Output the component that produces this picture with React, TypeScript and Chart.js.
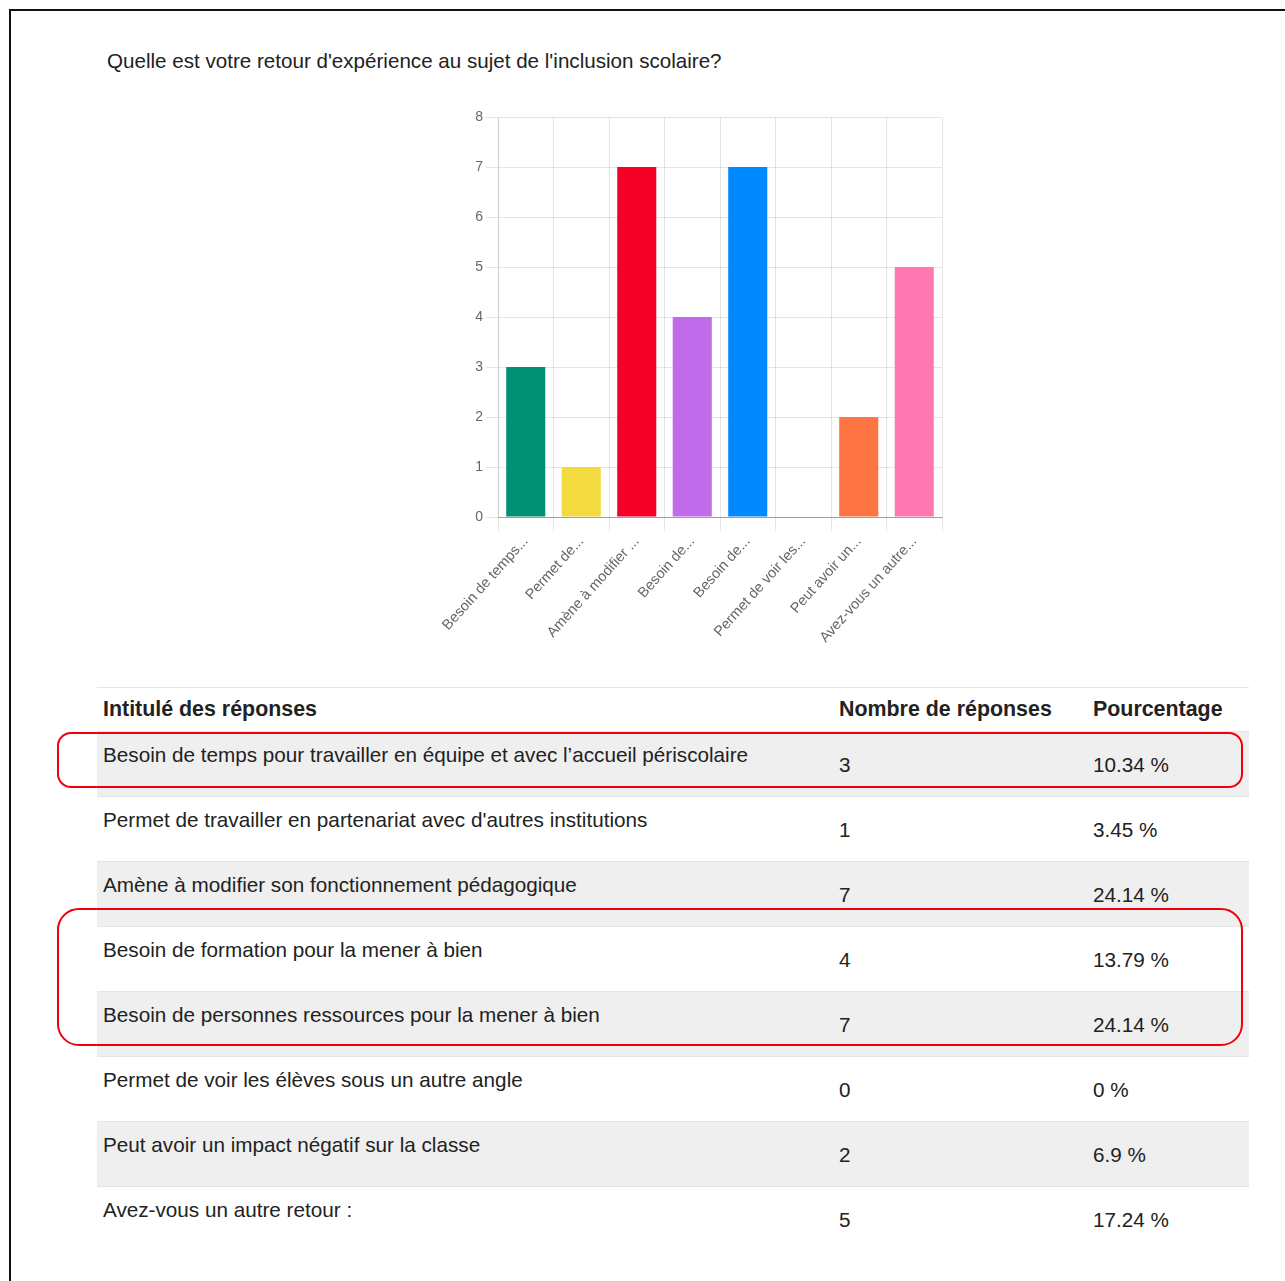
import React, { useEffect, useRef } from "react";
import { Chart, registerables } from "chart.js";

Chart.register(...registerables);

const title = "Quelle est votre retour d'expérience au sujet de l'inclusion scolaire?";

const answerLabels = [
  "Besoin de temps pour travailler en équipe et avec l’accueil périscolaire",
  "Permet de travailler en partenariat avec d'autres institutions",
  "Amène à modifier son fonctionnement pédagogique",
  "Besoin de formation pour la mener à bien",
  "Besoin de personnes ressources pour la mener à bien",
  "Permet de voir les élèves sous un autre angle",
  "Peut avoir un impact négatif sur la classe",
  "Avez-vous un autre retour :",
];

const tickLabels = [
  "Besoin de temps...",
  "Permet de...",
  "Amène à modifier ...",
  "Besoin de...",
  "Besoin de...",
  "Permet de voir les...",
  "Peut avoir un...",
  "Avez-vous un autre...",
];

const counts = [3, 1, 7, 4, 7, 0, 2, 5];

const percentages = ["10.34 %", "3.45 %", "24.14 %", "13.79 %", "24.14 %", "0 %", "6.9 %", "17.24 %"];

const barColors = ["#009172", "#F3DA3F", "#F50026", "#BF6BEA", "#0088FF", "#35C3C0", "#FF7443", "#FF78B0"];

const yTicks = [0, 1, 2, 3, 4, 5, 6, 7, 8];

const headers = ["Intitulé des réponses", "Nombre de réponses", "Pourcentage"];

const FONT = "'Liberation Sans', Arial, Helvetica, sans-serif";

function BarChart() {
  const ref = useRef<HTMLCanvasElement | null>(null);
  useEffect(() => {
    if (!ref.current) return;
    const chart = new Chart(ref.current, {
      type: "bar",
      data: {
        labels: tickLabels,
        datasets: [
          {
            data: counts,
            backgroundColor: barColors,
            borderWidth: 0,
            barPercentage: 0.88,
            categoryPercentage: 0.8,
          },
        ],
      },
      options: {
        responsive: false,
        animation: false,
        layout: { padding: { left: 38, right: 18, top: 22, bottom: 0 } },
        plugins: { legend: { display: false }, tooltip: { enabled: false }, title: { display: false } },
        scales: {
          x: {
            grid: {
              color: (ctx: any) => (ctx.index === tickLabels.length ? "rgba(0,0,0,0)" : "rgba(0,0,0,0.1)"),
              tickLength: 14,
              offset: true,
            },
            border: { color: "rgba(0,0,0,0.3)", width: 1 },
            ticks: {
              autoSkip: false,
              minRotation: 48,
              maxRotation: 48,
              padding: 2,
              color: "#666",
              font: { family: FONT, size: 14.5 },
            },
            afterFit: (scale: any) => {
              scale.height = 148;
            },
          },
          y: {
            min: 0,
            max: 8,
            grid: { color: "rgba(0,0,0,0.1)", tickLength: 12 },
            border: { color: "rgba(0,0,0,0.1)" },
            afterBuildTicks: (scale: any) => {
              scale.ticks = yTicks.map((v) => ({ value: v }));
            },
            ticks: {
              padding: 3,
              color: "#666",
              font: { family: FONT, size: 14 },
            },
            afterFit: (scale: any) => {
              scale.width = 30;
            },
          },
        },
      },
    });
    return () => chart.destroy();
  }, []);
  return (
    <canvas
      ref={ref}
      width={530}
      height={570}
      style={{ position: "absolute", left: 430, top: 95, width: 530, height: 570 }}
    />
  );
}

export default function App() {
  const tableLeft = 97;
  const tableWidth = 1152;
  const headerTop = 687;
  const rowTop0 = 731;
  const rowH = 65;
  const col2 = 839;
  const col3 = 1093;
  const textColor = "#222";
  const fs = 20.7;

  return (
    <div
      style={{
        position: "absolute",
        left: 0,
        top: 0,
        width: 1285,
        height: 1281,
        background: "#fff",
        overflow: "hidden",
        fontFamily: FONT,
        color: textColor,
      }}
    >
      <div
        style={{
          position: "absolute",
          left: 9,
          top: 9,
          width: 1285 - 9,
          height: 1281 - 9,
          borderTop: "2px solid #111",
          borderLeft: "2px solid #111",
          boxSizing: "border-box",
        }}
      />
      <div style={{ position: "absolute", left: 107, top: 48, fontSize: 20.6, lineHeight: "26px", whiteSpace: "nowrap" }}>
        {title}
      </div>
      <BarChart />
      <div
        style={{
          position: "absolute",
          left: tableLeft,
          top: headerTop,
          width: tableWidth,
          height: rowTop0 - headerTop,
          borderTop: "1px solid #e3e5e7",
          boxSizing: "border-box",
        }}
      />
      {headers.map((h, i) => (
        <div
          key={h}
          style={{
            position: "absolute",
            left: i === 0 ? 103 : i === 1 ? col2 : col3,
            top: 696,
            fontSize: 21.4,
            lineHeight: "26px",
            fontWeight: "bold",
            whiteSpace: "nowrap",
          }}
        >
          {h}
        </div>
      ))}
      {answerLabels.map((label, i) => {
        const top = rowTop0 + i * rowH;
        return (
          <React.Fragment key={i}>
            <div
              style={{
                position: "absolute",
                left: tableLeft,
                top,
                width: tableWidth,
                height: rowH,
                background: i % 2 === 0 ? "#efefef" : "#fff",
                borderTop: "1px solid #e2e4e6",
                boxSizing: "border-box",
              }}
            />
            <div style={{ position: "absolute", left: 103, top: top + 11, fontSize: fs, lineHeight: "26px", whiteSpace: "nowrap" }}>
              {label}
            </div>
            <div style={{ position: "absolute", left: col2, top: top + 21, fontSize: fs, lineHeight: "26px" }}>{counts[i]}</div>
            <div style={{ position: "absolute", left: col3, top: top + 21, fontSize: fs, lineHeight: "26px", whiteSpace: "nowrap" }}>
              {percentages[i]}
            </div>
          </React.Fragment>
        );
      })}
      <div
        style={{
          position: "absolute",
          left: 57,
          top: 732,
          width: 1186,
          height: 56,
          border: "2px solid #f0000a",
          borderRadius: 14,
          boxSizing: "border-box",
          pointerEvents: "none",
        }}
      />
      <div
        style={{
          position: "absolute",
          left: 57,
          top: 908,
          width: 1186,
          height: 138,
          border: "2px solid #f0000a",
          borderRadius: 22,
          boxSizing: "border-box",
          pointerEvents: "none",
        }}
      />
    </div>
  );
}
